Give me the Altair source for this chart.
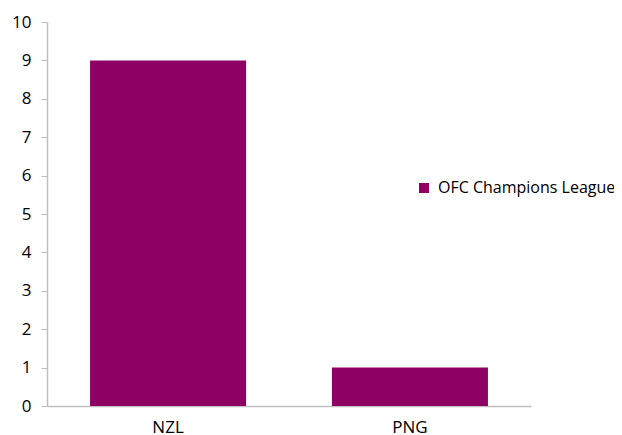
import altair as alt
import pandas as pd

countries = ["NZL", "PNG"]
values = [9, 1]
series = ["OFC Champions League", "OFC Champions League"]

df = pd.DataFrame({"country": countries, "value": values, "series": series})

FONT = "Open Sans"
GREY = "#BFBFBF"
BAR = "#8E0063"

chart = alt.Chart(df).mark_bar(color=BAR).encode(
    x=alt.X("country:N", title=None, sort=countries,
            scale=alt.Scale(paddingInner=0.355, paddingOuter=0.178),
            axis=alt.Axis(labelAngle=0, ticks=False, domainColor=GREY, domainWidth=1.5,
                          labelFontSize=17, labelFont=FONT, labelColor="#000000",
                          labelPadding=13)),
    y=alt.Y("value:Q", title=None,
            scale=alt.Scale(domain=[0, 10]),
            axis=alt.Axis(values=list(range(0, 11)), grid=False, domainColor=GREY, domainWidth=1.5,
                          tickColor=GREY, tickSize=6, labelFontSize=17, labelFont=FONT,
                          labelColor="#000000", labelPadding=10)),
    color=alt.Color("series:N", scale=alt.Scale(range=[BAR]),
                    legend=alt.Legend(title=None, orient="none", legendX=369, legendY=158,
                                      symbolType="square", symbolSize=100, labelFontSize=16,
                                      labelFont=FONT, labelColor="#000000", symbolStrokeWidth=0,
                                      labelLimit=300, labelOffset=6)),
).properties(
    width=484, height=384,
    autosize=alt.AutoSizeParams(type="none"),
    padding={"left": 39, "top": 14, "right": 83, "bottom": 34},
).configure_view(stroke=None)

chart.save("out.html", embed_options={"renderer": "svg", "actions": False})
